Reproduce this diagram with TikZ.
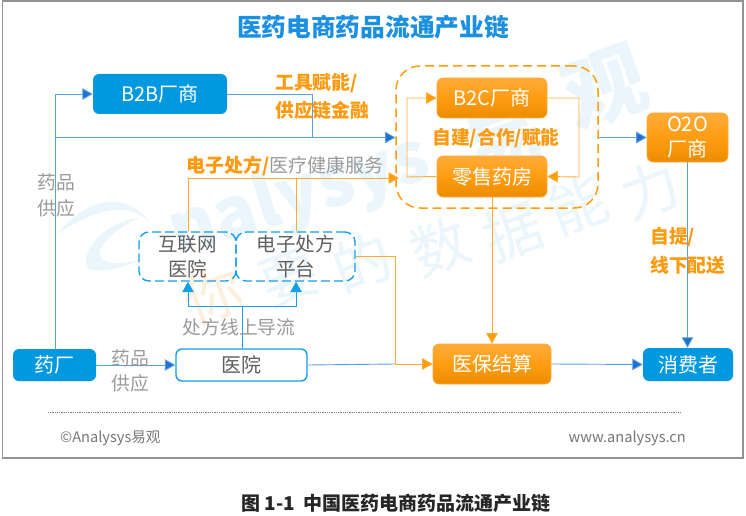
\documentclass[tikz,border=0pt]{standalone}
\usepackage{fontspec}
\setmainfont{Noto Sans CJK SC}
\usetikzlibrary{arrows.meta,shadings}
\definecolor{bluebox}{HTML}{0099E0}
\definecolor{blueline}{HTML}{5A9FE3}
\definecolor{bluetip}{HTML}{1F72D2}
\definecolor{cyanline}{HTML}{159FE5}
\definecolor{orangeline}{HTML}{FFAC33}
\definecolor{orangetip}{HTML}{FF9C0A}
\definecolor{orangetext}{HTML}{FF9A0E}
\definecolor{graytext}{HTML}{9A9A9A}
\definecolor{darktext}{HTML}{5F5F5F}
\definecolor{wmblue}{HTML}{EAF6FC}
\definecolor{wmorange}{HTML}{FDEFDD}
\definecolor{titleblue}{HTML}{1B8FE0}
\definecolor{ortop}{HTML}{FFAB3A}
\definecolor{orbot}{HTML}{EB8C00}
\definecolor{ormid}{HTML}{FF9D12}
\tikzset{
  x=1pt,y=-1pt,
  bluenode/.style={draw=none,fill=bluebox,rounded corners=6pt,text=white,font=\fontsize{20}{25}\selectfont,align=center,inner sep=0pt},
  orangenode/.style={draw=orangeline,line width=.6pt,top color=ortop,bottom color=orbot,middle color=ormid,rounded corners=6pt,text=white,font=\fontsize{20}{25}\selectfont,align=center,inner sep=0pt},
  whitenode/.style={draw=cyanline,line width=1.4pt,fill=white,rounded corners=6pt,text=darktext,font=\fontsize{20}{25}\selectfont,inner sep=0pt},
  dashnode/.style={draw=cyanline,line width=1.4pt,dash pattern=on 9pt off 4pt,rounded corners=10pt,text=darktext,font=\fontsize{19.5}{25}\selectfont,align=center,inner sep=0pt},
  blueflow/.style={draw=blueline,line width=.9pt},
  orangeflow/.style={draw=orangeline,line width=.9pt},
  bluehead/.style={-{Triangle[length=10.5pt,width=11.5pt,fill=bluetip]}},
  cyanhead/.style={-{Triangle[length=10.5pt,width=11.5pt,fill=cyanline]}},
  orangehead/.style={-{Triangle[length=10.5pt,width=11.5pt,fill=orangetip]}},
  orangelabel/.style={text=orangetext,font=\fontsize{18.8}{22}\selectfont\bfseries,inner sep=0pt},
  graylabel/.style={text=graytext,font=\fontsize{18.8}{22}\selectfont,inner sep=0pt},
  foot/.style={text=darktext!85,font=\fontsize{14.6}{17}\selectfont,inner sep=0pt},
  markwm/.style={text=wmblue,inner sep=0pt},
}
\newcommand{\boxat}[6]{\node[#1,minimum width=#4pt,minimum height=#5pt] (#2) at (#3) {#6};}
\begin{document}
\begin{tikzpicture}
\useasboundingbox (0,0) rectangle (746,516);
\fill[white] (0,0) rectangle (746,516);
\draw[draw=gray!85,line width=1.6pt] (2.5,1) rectangle (743,458);

% watermark
\fill[wmblue] (57,234) .. controls (80,205) and (120,185) .. (150,222) .. controls (125,200) and (95,210) .. (57,234) -- cycle;
\fill[wmblue] (140,218) .. controls (105,220) and (75,255) .. (90,270) .. controls (98,272) and (125,270) .. (150,255) .. controls (125,268) and (95,265) .. (100,250) .. controls (105,240) and (120,225) .. (140,218) -- cycle;
\node[markwm,rotate=17,font=\fontsize{70}{80}\selectfont\bfseries] (w1) at (300,197) {nalysys};
\node[markwm,rotate=20,font=\fontsize{82}{90}\selectfont\bfseries] (w2) at (503,138) {易};
\node[markwm,rotate=20,font=\fontsize{82}{90}\selectfont\bfseries] (w4) at (605,88) {观};
\foreach \t/\px/\py in {要/290/278,的/362/262,数/440/247,据/513/232,能/578/205,力/650/190}{
  \node[markwm,rotate=20,font=\fontsize{58}{64}\selectfont] at (\px,\py) {\t};
}
\node[text=wmorange,rotate=20,inner sep=0pt,font=\fontsize{58}{64}\selectfont] (w3) at (213,295) {你};

\node[text=titleblue,font=\fontsize{24.7}{30}\selectfont\bfseries,inner sep=0pt] (title) at (373,27) {医药电商药品流通产业链};

% boxes
\node[draw=orangetip,line width=1.5pt,dash pattern=on 9pt off 5pt,rounded corners=24pt,minimum width=202pt,minimum height=142pt,inner sep=0pt] (group) at (497,137) {};
\boxat{bluenode}{b2b}{160,94}{134}{40}{B2B厂商}
\boxat{orangenode}{b2c}{492,98}{110}{40}{B2C厂商}
\boxat{orangenode}{pharm}{492,176.5}{110}{41}{零售药房}
\boxat{orangenode}{o2o}{687.5,137.5}{81}{49}{O2O\\厂商}
\boxat{dashnode}{inet}{187.5,256.5}{97}{49}{互联网\\医院}
\boxat{dashnode}{plat}{295.5,256.5}{119}{49}{电子处方\\平台}
\boxat{bluenode}{factory}{54.5,365}{83}{32}{药厂}
\boxat{whitenode}{hosp}{241.5,365}{131}{32}{医院}
\boxat{orangenode}{settle}{492,364}{118}{40}{医保结算}
\boxat{bluenode}{cons}{688,364.5}{90}{33}{消费者}

% coordinates
\coordinate (trunk) at (55,137.5);
\coordinate (b2bturn) at (312,94);
\coordinate (b2bdown) at (312,137.5);
\coordinate (gl) at (395.5,137.5);
\coordinate (gr) at (598.5,137.5);
\coordinate (ol) at (399,178);
\coordinate (ipt) at (188,178);
\coordinate (ppt) at (296,178);
\coordinate (split) at (242.5,306);
\coordinate (spl) at (188,306);
\coordinate (spr) at (296,306);
\coordinate (platr) at (395,256);
\coordinate (platd) at (395,364);

% blue connectors
\draw[blueflow,bluehead] (factory.north -| trunk) |- (b2b.west);
\draw[blueflow] (trunk) -- (b2bdown);
\draw[blueflow] (b2b.east) -- (b2bturn) -- (b2bdown);
\draw[blueflow,bluehead] (b2bdown) -- (gl);
\draw[blueflow,bluehead] (gr) -- (o2o.west);
\draw[blueflow,bluehead] (o2o.south) -- (cons.north -| o2o.south);
\draw[blueflow,bluehead] (factory.east) -- (hosp.west);
\draw[blueflow] (hosp.east) -- (platd);
\draw[blueflow,bluehead] (settle.east) -- (cons.west);
% cyan connectors
\draw[draw=cyanline,line width=.9pt] (hosp.north -| split) -- (split);
\draw[draw=cyanline,line width=.9pt,cyanhead] (split) -- (spl) -- (inet.south -| spl);
\draw[draw=cyanline,line width=.9pt,cyanhead] (split) -- (spr) -- (plat.south -| spr);
% orange connectors
\draw[orangeflow] (inet.north -| ipt) -- (ipt);
\draw[orangeflow] (plat.north -| ppt) -- (ppt);
\draw[orangeflow,orangehead] (ipt) -- (ol);
\draw[orangeflow,orangehead] (pharm.west) -- (407,177) -- (407,98) -- (b2c.west);
\draw[orangeflow,orangehead] (b2c.east) -- (579,98) -- (579,177) -- (pharm.east);
\draw[orangeflow,orangehead] (pharm.south) -- (settle.north);
\draw[orangeflow,orangehead] (plat.east |- platr) -- (platr) -- (platd) -- (settle.west);

% labels
\node[orangelabel,anchor=west] (l1) at (275,83) {工具赋能/};
\node[orangelabel,anchor=west] (l2) at (275,110) {供应链金融};
\node[anchor=west,inner sep=0pt,font=\fontsize{19}{22}\selectfont] (l3) at (186,166) {\textcolor{orangetext}{\bfseries 电子处方/}\textcolor{graytext}{医疗健康服务}};
\node[orangelabel] (l4) at (496,138) {自建/合作/赋能};
\node[orangelabel,anchor=west] (l5) at (650,237) {自提/};
\node[orangelabel,anchor=west] (l6) at (650,265) {线下配送};
\node[graylabel] (g1) at (56,182) {药品};
\node[graylabel] (g2) at (56,208) {供应};
\node[graylabel] (g3) at (130,358) {药品};
\node[graylabel] (g4) at (130,383) {供应};
\node[graylabel] (g5) at (239,327) {处方线上导流};

% footer
\draw[draw=gray,line width=.8pt,dash pattern=on .8pt off 1pt] (48,412.5) -- (681,412.5);
\node[foot,anchor=west] (f1) at (60,438) {©Analysys易观};
\node[foot,anchor=east] (f2) at (686,438) {www.analysys.cn};
\node[text=black!85,font=\fontsize{19}{23}\selectfont\bfseries,inner sep=0pt] (cap) at (396,503) {图 1-1\ \ 中国医药电商药品流通产业链};
\end{tikzpicture}
\end{document}
